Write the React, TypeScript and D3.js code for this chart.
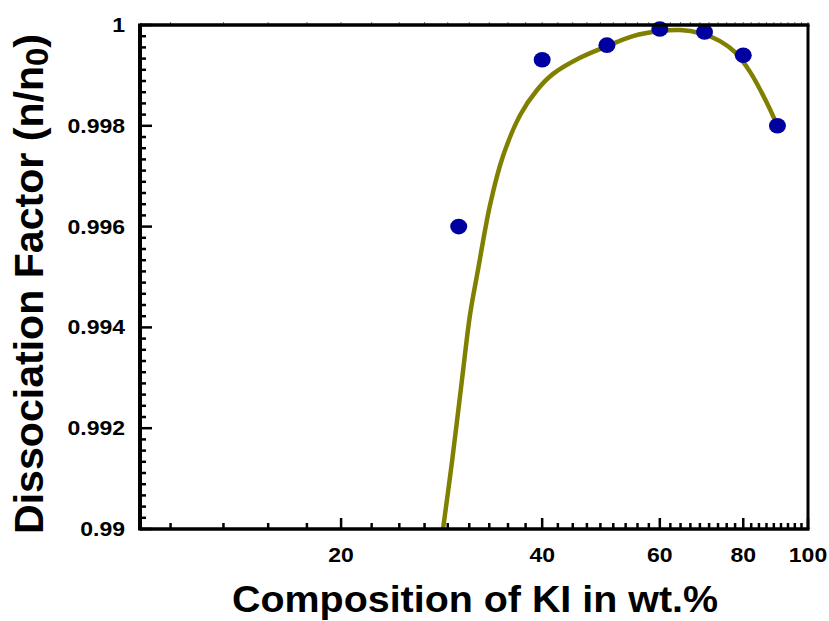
import React from 'react';
import * as d3 from 'd3';

// measured points
const compositions = [30, 40, 50, 60, 70, 80, 90];
const dissociation = [0.996, 0.99931, 0.9996, 0.99992, 0.99986, 0.9994, 0.998];

// fitted curve
const fitX = [28.42, 29.31, 30.34, 31.19, 32.06, 33.42, 34.95, 37.06, 39.3, 41.53, 45.57, 50.02, 54.7, 60.02, 64.33, 68.91, 73.84, 77.75, 81.89, 86.22, 90];
const fitY = [0.99, 0.99133, 0.99296, 0.99425, 0.99514, 0.99643, 0.9974, 0.99821, 0.99871, 0.99903, 0.99935, 0.99958, 0.99978, 0.99988, 0.9999, 0.99984, 0.99968, 0.99946, 0.99907, 0.99853, 0.998];

const xTickLabels = [20, 40, 60, 80, 100];
const yTickLabels = [0.99, 0.992, 0.994, 0.996, 0.998, 1];

const width = 829;
const height = 621;
const margin = { top: 25, right: 21, bottom: 92, left: 140 };
const font = '"Liberation Sans", Arial, sans-serif';

const App: React.FC = () => {
    const x = d3.scaleLog().domain([10, 100]).range([margin.left, width - margin.right]);
    const y = d3.scaleLinear().domain([0.99, 1]).range([height - margin.bottom, margin.top]);

    const x0 = margin.left;
    const x1 = width - margin.right;
    const y0 = height - margin.bottom;
    const y1 = margin.top;

    // 8 minor ticks between labelled values
    const xStep = (xTickLabels[1] - xTickLabels[0]) / 9;
    const xTicks = d3.range(-4, 37).map((k) => ({ v: xTickLabels[0] + k * xStep, major: k % 9 === 0 }))
        .filter((t) => t.v > 10 && t.v < 100.01);
    const yStep = (yTickLabels[1] - yTickLabels[0]) / 9;
    const yTicks = d3.range(0, 46).map((k) => ({ v: yTickLabels[0] + k * yStep, major: k % 9 === 0 }));

    const fit = fitX.map((v, i) => [v, fitY[i]] as [number, number]);
    const line = d3.line<[number, number]>()
        .x((d) => x(d[0]))
        .y((d) => y(d[1]))
        .curve(d3.curveCatmullRom.alpha(0.5));

    return (
        <svg width={width} height={height} style={{ position: 'absolute', left: 0, top: 0, display: 'block' }}
             fontFamily={font} fontWeight="bold">
            <rect width={width} height={height} fill="white" />

            {/* top ticks, faint */}
            {xTicks.map((t, i) => (
                <line key={'tt' + i} x1={x(t.v)} x2={x(t.v)} y1={y1 - 3} y2={y1} stroke="#777" strokeWidth={1} />
            ))}

            <path d={line(fit) ?? ''} fill="none" stroke="#808000" strokeWidth={4.5} />

            {compositions.map((c, i) => (
                <ellipse key={'p' + i} cx={x(c)} cy={y(dissociation[i])} rx={8.5} ry={7.8} fill="#0000A0" />
            ))}

            {/* frame */}
            <line x1={x0} x2={x1 + 1.5} y1={y1} y2={y1} stroke="black" strokeWidth={3.5} />
            <line x1={x1} x2={x1} y1={y1} y2={y0} stroke="black" strokeWidth={3} />
            <line x1={x0} x2={x1 + 1.5} y1={y0} y2={y0} stroke="black" strokeWidth={3.5} />
            <line x1={x0} x2={x0} y1={y1 - 1.5} y2={y0 + 1.5} stroke="black" strokeWidth={4} />

            {xTicks.map((t, i) => (
                <line key={'xt' + i} x1={x(t.v)} x2={x(t.v)} y1={y0} y2={y0 - (t.major ? 11 : 6)}
                      stroke="black" strokeWidth={2.5} />
            ))}
            {yTicks.map((t, i) => (
                <line key={'yt' + i} x1={x0} x2={x0 + (t.major ? 12 : 6)} y1={y(t.v)} y2={y(t.v)}
                      stroke="black" strokeWidth={2.5} />
            ))}

            {xTickLabels.map((v) => (
                <text key={'xl' + v} transform={`translate(${x(v)},${y0 + 33}) scale(1.15,1)`}
                      textAnchor="middle" fontSize={20}>{v}</text>
            ))}
            {yTickLabels.map((v) => (
                <text key={'yl' + v} transform={`translate(${x0 - 15},${y(v) + 7}) scale(1.15,1)`}
                      textAnchor="end" fontSize={20}>{d3.format('')(+v.toFixed(3))}</text>
            ))}

            <text x={475} y={612} textAnchor="middle" fontSize={36} textLength={486} lengthAdjust="spacingAndGlyphs">
                Composition of KI in wt.%
            </text>
            <text transform="translate(43,284) rotate(-90)" textAnchor="middle" fontSize={40}
                  textLength={500} lengthAdjust="spacingAndGlyphs">
                Dissociation Factor (n/n<tspan fontSize={32} dy={5}>0</tspan><tspan dy={-5}>)</tspan>
            </text>
        </svg>
    );
};

export default App;
